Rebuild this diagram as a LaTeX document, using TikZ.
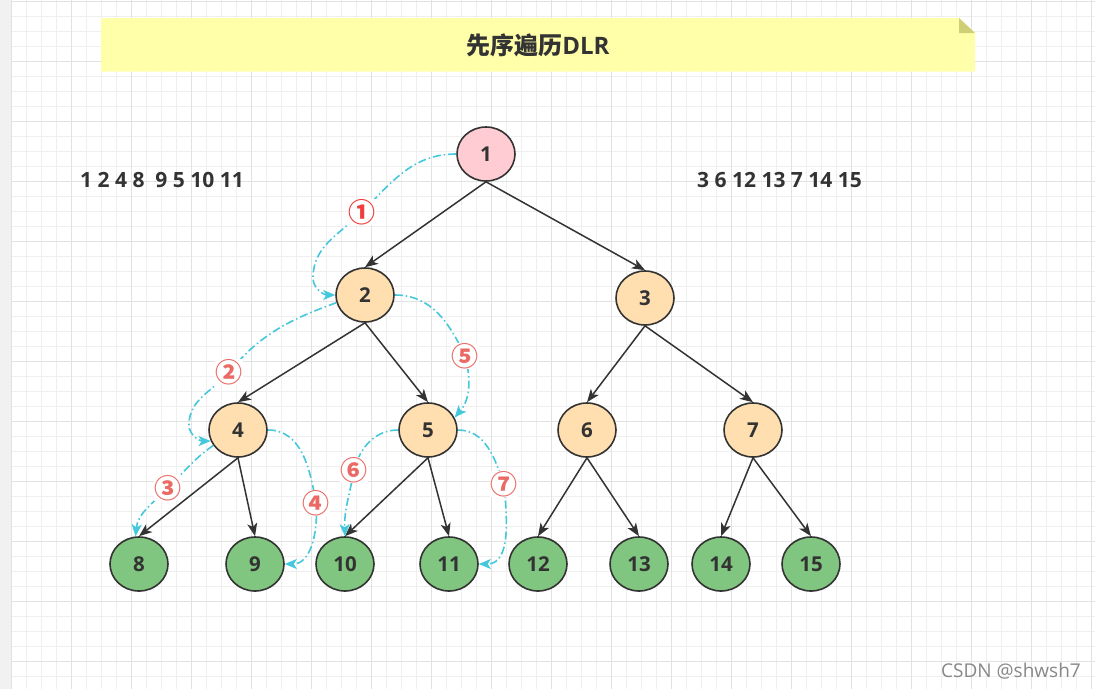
\documentclass[tikz,border=0pt]{standalone}
\usepackage{fontspec}
\setmainfont{Open Sans}
\newfontfamily\cjk{Noto Sans CJK SC}
\usetikzlibrary{shapes.geometric,arrows.meta}
\definecolor{txt}{HTML}{333333}
\definecolor{edgec}{HTML}{333333}
\definecolor{pinkf}{HTML}{FFCCD4}
\definecolor{orangef}{HTML}{FFDFB0}
\definecolor{greenf}{HTML}{80C680}
\definecolor{cyanl}{HTML}{45C8DC}
\definecolor{redl}{HTML}{EA6B66}
\definecolor{redb}{HTML}{F03C3C}
\definecolor{gridmin}{HTML}{EFEFEF}
\definecolor{gridmaj}{HTML}{E2E2E2}
\definecolor{stripc}{HTML}{F1F1F1}
\definecolor{notef}{HTML}{FFFFAA}
\definecolor{foldf}{HTML}{CFCF75}
\definecolor{wmark}{HTML}{888888}
\begin{document}
\begin{tikzpicture}[x=1pt,y=1pt,
  tnode/.style={ellipse,draw=edgec,line width=1.6pt,minimum width=58pt,minimum height=54pt,inner sep=0pt,
    font=\fontsize{20.5}{24}\selectfont\bfseries,text=txt},
  rootn/.style={tnode,fill=pinkf},
  midn/.style={tnode,fill=orangef},
  leafn/.style={tnode,fill=greenf},
  treeedge/.style={draw=edgec,line width=1.5pt,-{Stealth[length=13pt,width=10pt,inset=3.5pt]}},
  trav/.style={draw=cyanl,line width=1.6pt,dash pattern=on 8pt off 3pt on 1.5pt off 3pt,
    -{Stealth[length=12pt,width=10pt,inset=3pt]}},
  lbl/.style={fill=white,inner sep=0.5pt,text=redl,font=\cjk\fontsize{27}{28}\selectfont\bfseries},
  seq/.style={anchor=west,inner sep=0pt,text=txt,font=\fontsize{21}{24}\selectfont\bfseries},
]
\useasboundingbox (0,0) rectangle (1095,-689);
% background grid
\fill[white] (0,0) rectangle (1095,-689);
\foreach \i in {0,...,72} \draw[gridmin,line width=1pt] ({11.7+15*\i},0) -- ({11.7+15*\i},-689);
\foreach \i in {0,...,45} \draw[gridmin,line width=1pt] (11.7,{-1.7-15*\i}) -- (1095,{-1.7-15*\i});
\foreach \i in {0,...,18} \draw[gridmaj,line width=1pt] ({11.7+60*\i},0) -- ({11.7+60*\i},-689);
\foreach \i in {0,...,11} \draw[gridmaj,line width=1pt] (11.7,{-1.7-60*\i}) -- (1095,{-1.7-60*\i});
\fill[stripc] (0,0) rectangle (11,-689);
% title note
\fill[notef] (101,-18) -- (959,-18) -- (975,-33) -- (975,-71.5) -- (101,-71.5) -- cycle;
\fill[foldf] (959,-18) -- (975,-33) -- (959,-33) -- cycle;
\node[inner sep=0pt,text=txt,font=\fontsize{24}{28}\selectfont\bfseries] (title) at (538,-45) {{\cjk 先序遍历}DLR};
% sequences
\node[seq] (seqL) at (80,-180) {1 2 4 8\ \ 9 5 10 11};
\node[seq] (seqR) at (697,-180) {3 6 12 13 7 14 15};
% tree nodes
\node[rootn] (n1) at (486,-154) {1};
\node[midn] (n2) at (365,-295) {2};
\node[midn] (n3) at (645,-298) {3};
\node[midn] (n4) at (238,-430) {4};
\node[midn] (n5) at (428,-430) {5};
\node[midn] (n6) at (587,-430) {6};
\node[midn] (n7) at (753,-430) {7};
\node[leafn] (n8) at (139,-564) {8};
\node[leafn] (n9) at (255,-564) {9};
\node[leafn] (n10) at (345,-564) {10};
\node[leafn] (n11) at (449,-564) {11};
\node[leafn] (n12) at (538,-564) {12};
\node[leafn] (n13) at (639,-564) {13};
\node[leafn] (n14) at (721,-564) {14};
\node[leafn] (n15) at (811,-564) {15};
% tree edges
\draw[treeedge] (n1.south) -- (n2.north);
\draw[treeedge] (n1.south) -- (n3.north);
\draw[treeedge] (n2.south) -- (n4.north);
\draw[treeedge] (n2.south) -- (n5.north);
\draw[treeedge] (n3.south) -- (n6.north);
\draw[treeedge] (n3.south) -- (n7.north);
\draw[treeedge] (n4.south) -- (n8.north);
\draw[treeedge] (n4.south) -- (n9.north);
\draw[treeedge] (n5.south) -- (n10.north);
\draw[treeedge] (n5.south) -- (n11.north);
\draw[treeedge] (n6.south) -- (n12.north);
\draw[treeedge] (n6.south) -- (n13.north);
\draw[treeedge] (n7.south) -- (n14.north);
\draw[treeedge] (n7.south) -- (n15.north);
% traversal paths
\coordinate (c1) at (362,-212);
\coordinate (c2) at (229,-372);
\coordinate (c3) at (168,-488);
\coordinate (c4) at (316,-503);
\coordinate (c5) at (465,-356);
\coordinate (c6) at (354,-470);
\coordinate (c7) at (504,-484);
\draw[trav] (n1.west) to[out=180,in=45] (c1) to[out=225,in=90] (313,-278) to[out=270,in=180] (n2.west);
\draw[trav] (n2.195) to[out=200,in=50] (c2) to[out=230,in=90] (189,-425) to[out=270,in=180] (n4.202);
\draw[trav] (n4.212) to[out=215,in=45] (c3) to[out=225,in=85] (n8.97);
\draw[trav] (n4.east) to[out=0,in=100] (c4) to[out=275,in=0] (n9.east);
\draw[trav] (n2.east) to[out=0,in=115] (c5) to[out=285,in=50] (n5.25);
\draw[trav] (n5.west) to[out=180,in=75] (c6) to[out=260,in=92] (n10.north);
\draw[trav] (n5.east) to[out=0,in=110] (c7) to[out=275,in=0] (n11.east);
\node[lbl,text=redb] (l1) at (c1) {①};
\node[lbl] (l2) at (c2) {②};
\node[lbl] (l3) at (c3) {③};
\node[lbl] (l4) at (c4) {④};
\node[lbl] (l5) at (c5) {⑤};
\node[lbl] (l6) at (c6) {⑥};
\node[lbl] (l7) at (c7) {⑦};
% watermark
\node[anchor=east,inner sep=0pt,text=wmark,font=\fontsize{19}{22}\selectfont] (wm) at (1081,-671) {CSDN @shwsh7};
\end{tikzpicture}
\end{document}
